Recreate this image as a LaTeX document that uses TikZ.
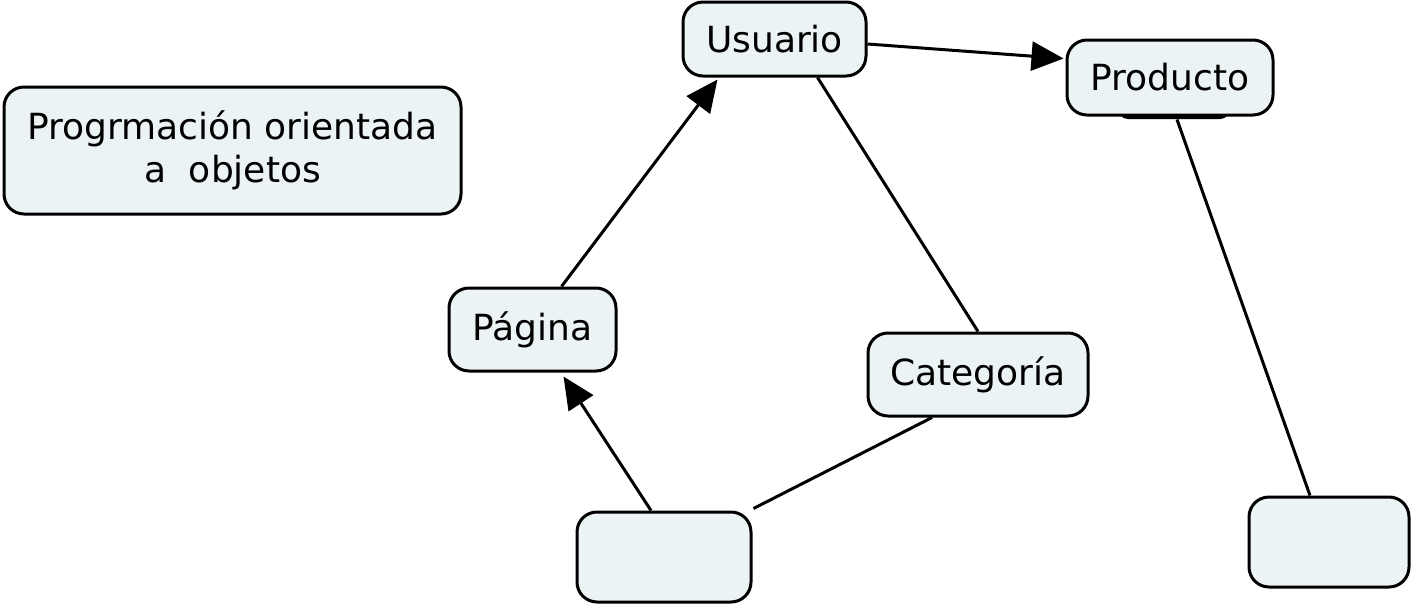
\documentclass[tikz,border=0pt]{standalone}
\usepackage{fontspec}
\setmainfont{DejaVu Sans}
\usetikzlibrary{arrows.meta,calc}
\definecolor{boxfill}{HTML}{ECF3F5}
\tikzset{
  concept/.style={draw=black, line width=3pt, fill=boxfill, rounded corners=20pt,
    inner sep=0pt, align=center, font=\fontsize{36}{43}\selectfont},
  link/.style={line width=3pt, draw=black},
  arr/.style={link, -{Triangle[length=32pt,width=29pt]}}
}
\begin{document}
\begin{tikzpicture}[x=1pt,y=-1pt]
\useasboundingbox (0,0) rectangle (1417,611);
% dark shape behind Producto
\fill[black, rounded corners=10pt] (1118,92) rectangle (1230,119);
\node[concept, minimum width=457pt, minimum height=127pt] (poo) at (232.5,150.5) {Progrmación orientada\\a\ \ objetos};
\node[concept, minimum width=183pt, minimum height=74pt] (usu) at (774.5,39) {Usuario};
\node[concept, minimum width=206pt, minimum height=75pt] (pro) at (1170,77.5) {Producto};
\node[concept, minimum width=167pt, minimum height=83pt] (pag) at (532.5,329.5) {Página};
\node[concept, minimum width=220pt, minimum height=83pt] (cat) at (978,374.5) {Categoría};
\node[concept, minimum width=174pt, minimum height=90pt] (e1) at (664,557) {};
\node[concept, minimum width=160pt, minimum height=90pt] (e2) at (1329,542) {};
% connectors
\draw[arr] ([xshift=29pt]pag.north) -- ([xshift=-57pt,yshift=-2pt]usu.south);
\draw[arr] ([yshift=-5pt]usu.east) -- ([xshift=-2pt,yshift=19pt]pro.west);
\draw[link] ([xshift=43pt]usu.south) -- (cat.north);
\draw[arr] ([xshift=-13pt]e1.north) -- ([xshift=31pt,yshift=-4pt]pag.south);
\draw[link] ([xshift=1pt,yshift=2pt]e1.north east) -- ([xshift=-46pt]cat.south);
\draw[link] ([xshift=7pt,yshift=-3pt]pro.south) -- ([xshift=-19pt]e2.north);
\end{tikzpicture}
\end{document}
